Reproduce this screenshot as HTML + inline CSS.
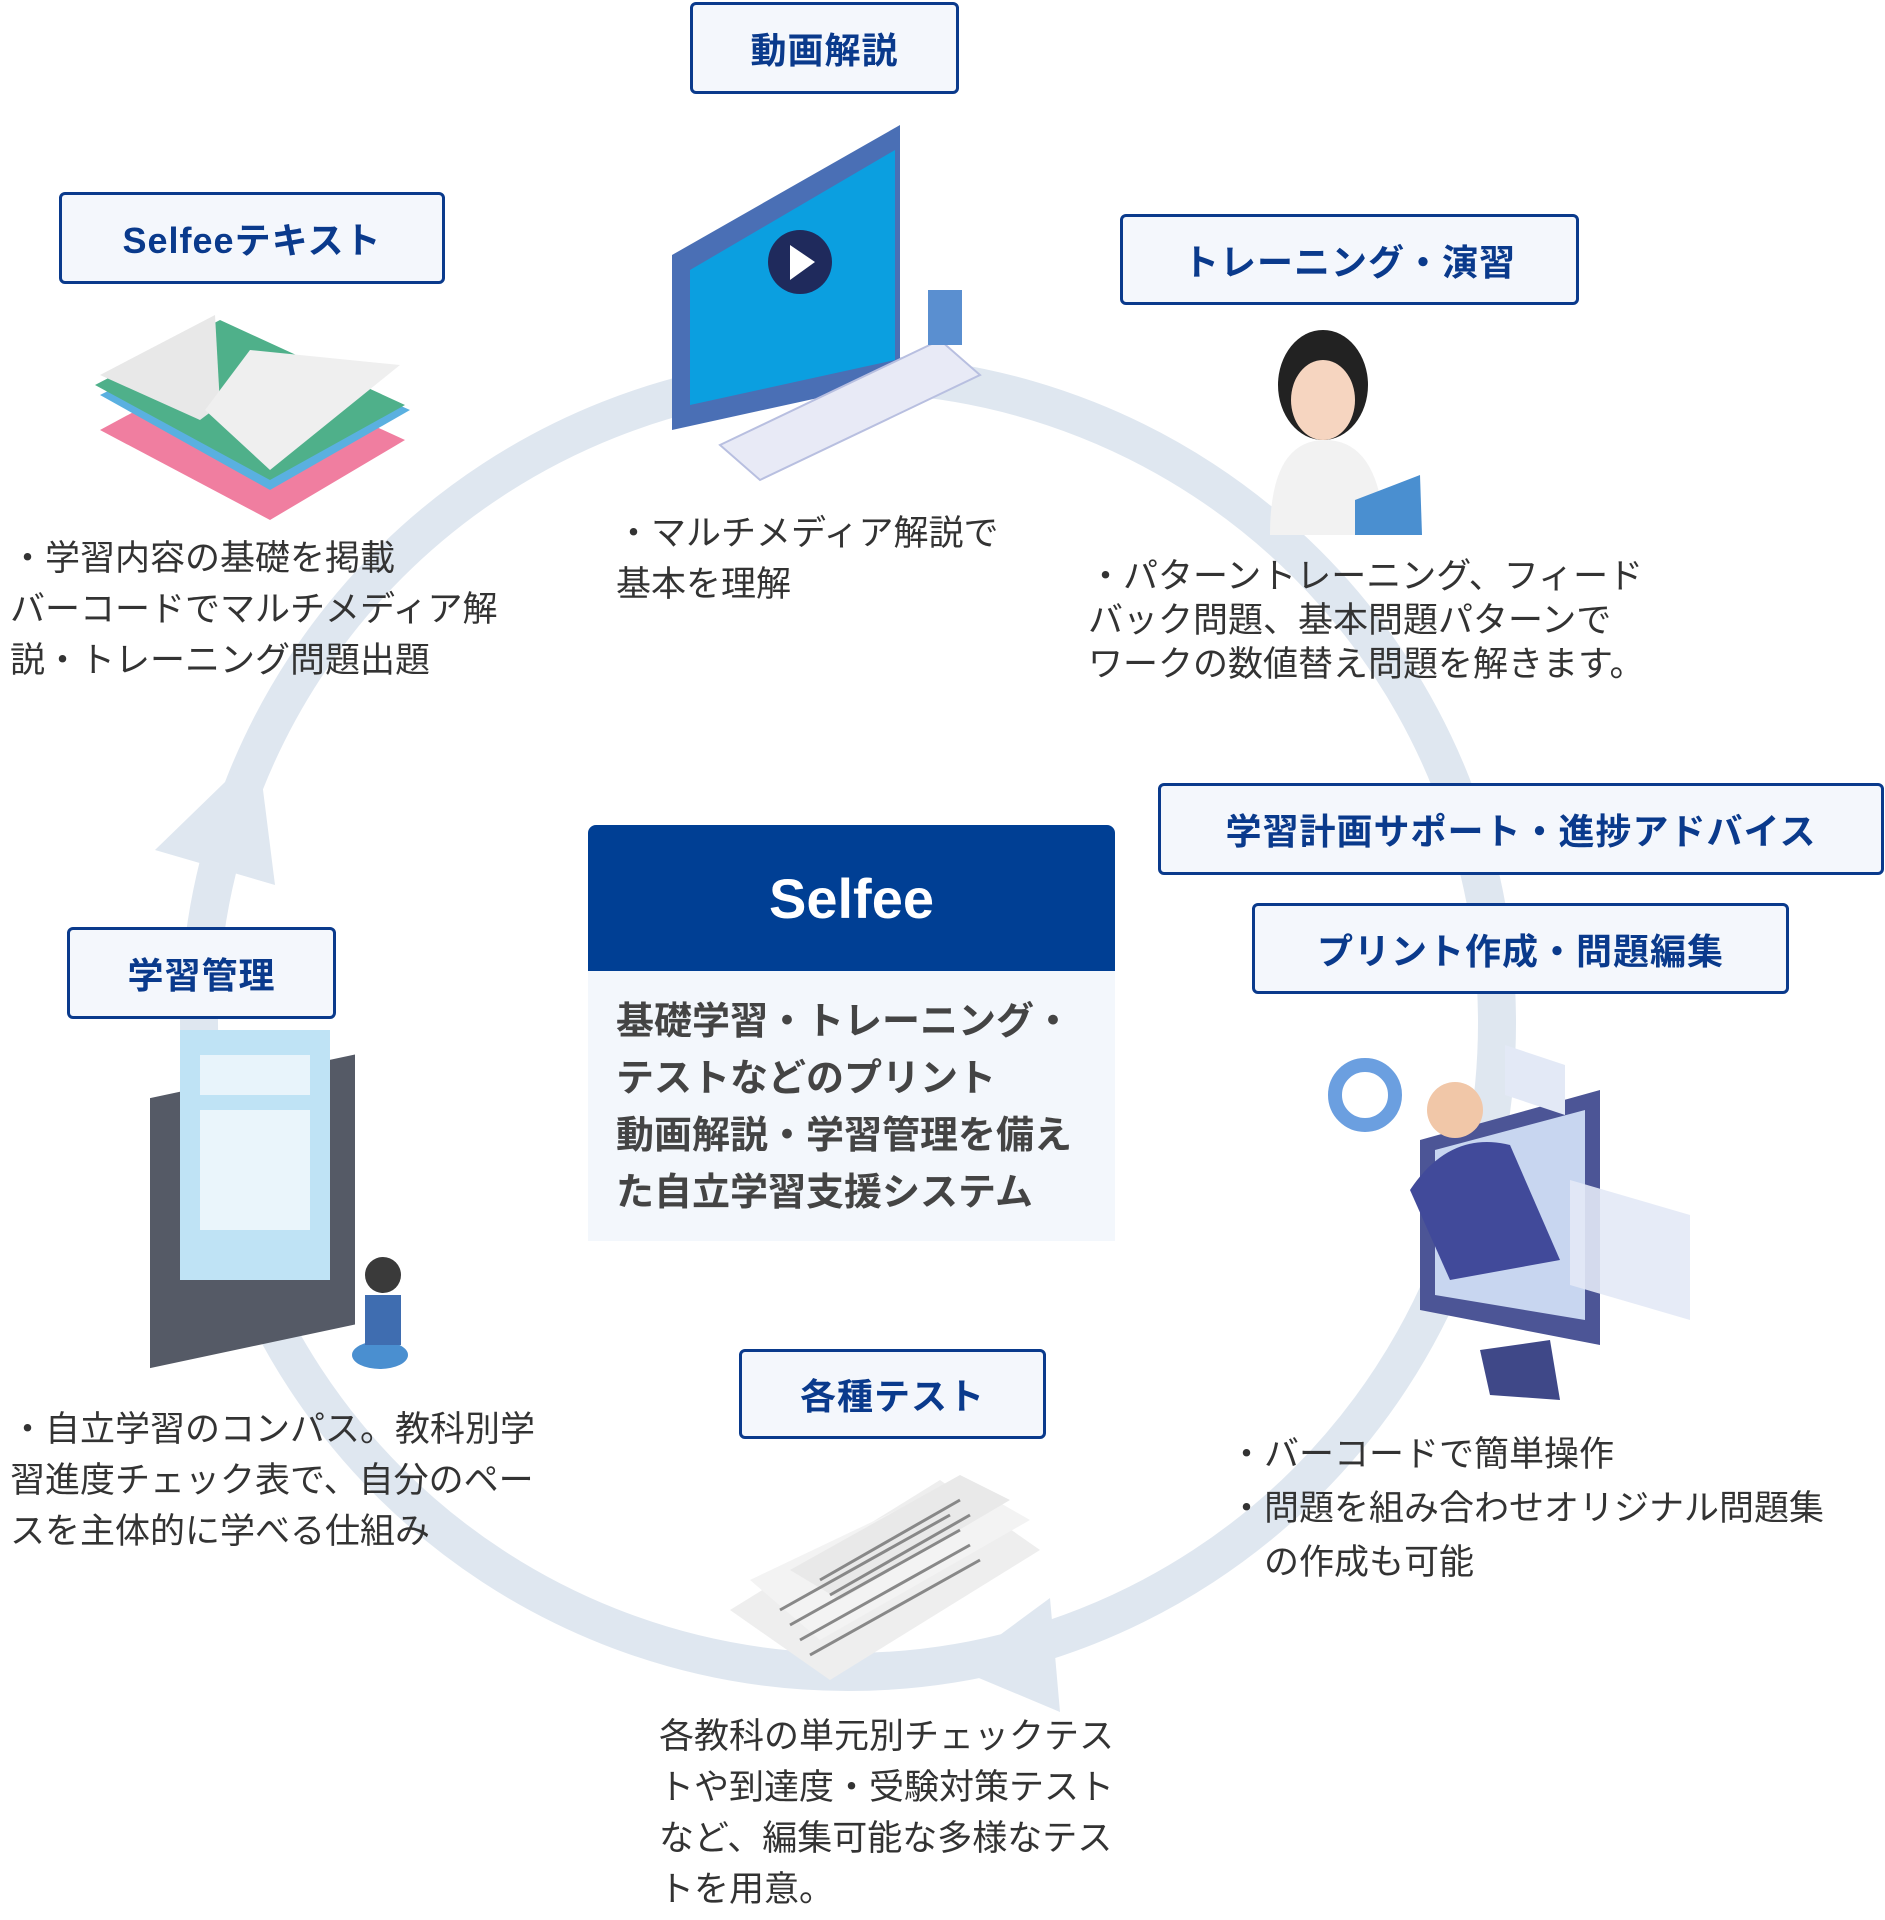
<!DOCTYPE html>
<html><head><meta charset="utf-8">
<style>
body{margin:0;width:1885px;height:1920px;background:#fff;position:relative;overflow:hidden;font-family:"Liberation Sans","Noto Sans CJK JP",sans-serif;}
.lb{position:absolute;box-sizing:border-box;border:3px solid #0a3a8c;border-radius:6px;background:#f4f7fc;color:#0a3a8c;font-weight:bold;font-size:36px;display:flex;align-items:center;justify-content:center;letter-spacing:1px;}
.tx{position:absolute;color:#333;font-size:35px;line-height:51px;white-space:nowrap;}
svg{position:absolute;left:0;top:0;}
</style></head><body>
<svg width="1885" height="1920" viewBox="0 0 1885 1920">
<circle cx="848" cy="1023" r="649" fill="none" stroke="#dfe7f0" stroke-width="38"/>
<path d="M155 850 L258 750 L275 885 Z" fill="#dfe7f0"/>
<path d="M955 1668 L1050 1598 L1060 1712 Z" fill="#dfe7f0"/>
<polygon points="672,255 900,125 900,380 672,430" fill="#4a6fb5"/>
<polygon points="690,270 895,150 895,360 690,405" fill="#0b9fe0"/>
<circle cx="800" cy="262" r="32" fill="#1f2a5c"/>
<polygon points="790,245 790,280 815,262" fill="#fff"/>
<polygon points="720,445 940,340 980,375 760,480" fill="#e8eaf6" stroke="#b8bfe0" stroke-width="2"/>
<rect x="928" y="290" width="34" height="55" fill="#5a8fd0"/>
<polygon points="100,430 230,360 405,440 270,520" fill="#f07ea0"/>
<polygon points="100,395 230,330 410,410 270,490" fill="#5ab0e0"/>
<polygon points="95,385 220,320 405,405 270,480" fill="#4fb08a"/>
<polygon points="100,375 215,315 220,405 200,420" fill="#e8e8e8"/>
<polygon points="205,410 250,350 400,365 270,470" fill="#efefef"/>
<ellipse cx="1323" cy="385" rx="45" ry="55" fill="#222"/>
<ellipse cx="1323" cy="400" rx="32" ry="40" fill="#f6d5c0"/>
<path d="M1270 535 Q1270 440 1325 440 Q1380 440 1385 535 Z" fill="#f2f2f2"/>
<polygon points="1355,500 1420,475 1422,535 1355,535" fill="#4a8fd0"/>
<rect x="150" y="1090" width="205" height="270" fill="#555a66" transform="skewY(-12) translate(0,40)"/>
<rect x="180" y="1030" width="150" height="250" fill="#bfe3f5"/>
<rect x="200" y="1055" width="110" height="40" fill="#e8f4fb"/>
<rect x="200" y="1110" width="110" height="120" fill="#eaf5fb"/>
<ellipse cx="380" cy="1355" rx="28" ry="14" fill="#4a8fd0"/>
<circle cx="383" cy="1275" r="18" fill="#3a3a3a"/>
<rect x="365" y="1295" width="36" height="50" fill="#3f6db0"/>
<polygon points="1420,1140 1600,1090 1600,1345 1420,1310" fill="#4c5596"/>
<polygon points="1435,1150 1585,1110 1585,1320 1435,1295" fill="#c8d6f0"/>
<polygon points="1480,1350 1550,1340 1560,1400 1490,1395" fill="#3f4888"/>
<circle cx="1455" cy="1110" r="28" fill="#f1c7a8"/>
<path d="M1410 1190 Q1450 1130 1510 1145 L1560 1260 L1450 1280 Z" fill="#414a9a"/>
<circle cx="1365" cy="1095" r="30" fill="none" stroke="#6b9fe0" stroke-width="14"/>
<polygon points="1570,1180 1690,1215 1690,1320 1570,1285" fill="#e3e9f6" opacity=".9"/>
<polygon points="1505,1045 1565,1065 1565,1115 1505,1095" fill="#e3e9f6"/>
<polygon points="730,1610 940,1480 1040,1550 830,1680" fill="#eeeeee"/>
<polygon points="750,1580 960,1480 1030,1520 820,1640" fill="#f3f3f3"/>
<polygon points="790,1570 960,1475 1010,1500 840,1600" fill="#e9e9e9"/>
<g stroke="#888" stroke-width="3">
<line x1="780" y1="1610" x2="950" y2="1515"/><line x1="790" y1="1625" x2="960" y2="1530"/>
<line x1="800" y1="1640" x2="970" y2="1545"/><line x1="810" y1="1655" x2="980" y2="1560"/>
<line x1="820" y1="1580" x2="960" y2="1500"/><line x1="830" y1="1595" x2="970" y2="1515"/>
</g>
</svg>

<div class="lb" style="left:690px;top:2px;width:269px;height:92px;">動画解説</div>
<div class="lb" style="left:59px;top:192px;width:386px;height:92px;">Selfeeテキスト</div>
<div class="lb" style="left:1120px;top:214px;width:459px;height:91px;">トレーニング・演習</div>
<div class="lb" style="left:1158px;top:783px;width:726px;height:92px;">学習計画サポート・進捗アドバイス</div>
<div class="lb" style="left:1252px;top:903px;width:537px;height:91px;">プリント作成・問題編集</div>
<div class="lb" style="left:67px;top:927px;width:269px;height:92px;">学習管理</div>
<div class="lb" style="left:739px;top:1349px;width:307px;height:90px;">各種テスト</div>

<div style="position:absolute;left:588px;top:825px;width:527px;height:146px;background:#003f94;border-radius:8px 8px 0 0;color:#fff;font-weight:bold;font-size:56px;display:flex;align-items:center;justify-content:center;">Selfee</div>
<div style="position:absolute;left:588px;top:971px;width:527px;height:270px;background:#f3f7fc;"></div>
<div class="tx" style="left:616px;top:994px;font-size:38px;line-height:57px;font-weight:bold;color:#444;">基礎学習・トレーニング・<br>テストなどのプリント<br>動画解説・学習管理を備え<br>た自立学習支援システム</div>

<div class="tx" style="left:10px;top:533px;">・学習内容の基礎を掲載<br>バーコードでマルチメディア解<br>説・トレーニング問題出題</div>
<div class="tx" style="left:616px;top:508px;">・マルチメディア解説で<br>基本を理解</div>
<div class="tx" style="left:1088px;top:555px;line-height:44px;">・パターントレーニング、フィード<br>バック問題、基本問題パターンで<br>ワークの数値替え問題を解きます。</div>
<div class="tx" style="left:10px;top:1404px;">・自立学習のコンパス。教科別学<br>習進度チェック表で、自分のペー<br>スを主体的に学べる仕組み</div>
<div class="tx" style="left:1229px;top:1428px;line-height:54px;">・バーコードで簡単操作<br>・問題を組み合わせオリジナル問題集<br>　の作成も可能</div>
<div class="tx" style="left:659px;top:1711px;">各教科の単元別チェックテス<br>トや到達度・受験対策テスト<br>など、編集可能な多様なテス<br>トを用意。</div>
</body></html>
